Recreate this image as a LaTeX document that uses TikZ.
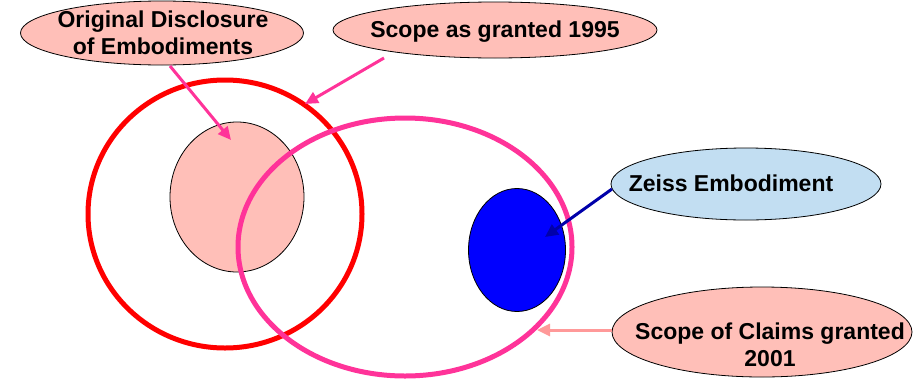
\documentclass[tikz,border=0pt]{standalone}
\usepackage{fontspec}
\setmainfont{Liberation Sans}
\usetikzlibrary{shapes.geometric,arrows.meta}
\definecolor{salmon}{HTML}{FFBFB8}
\definecolor{lblue}{HTML}{C2DEF2}
\definecolor{pinkline}{HTML}{FF3399}
\definecolor{darkblue}{HTML}{0000AA}
\definecolor{lightarrow}{HTML}{FF9999}
\tikzset{
  lab/.style={ellipse, draw=black, line width=0.8pt, inner sep=0pt},
  txt/.style={font=\fontsize{23}{27}\selectfont\bfseries, align=center, inner sep=0pt},
  big/.style={ellipse, line width=5pt, inner sep=0pt, fill=none},
  blob/.style={ellipse, draw=black, line width=0.8pt, inner sep=0pt},
  arr/.style={line width=3pt, -{Triangle[length=13pt,width=12pt]}},
}
\begin{document}
\begin{tikzpicture}[x=1pt,y=-1pt]
\useasboundingbox (0,0) rectangle (920,378);
% big ellipses and blobs
\node[big, draw=red, minimum width=274pt, minimum height=268pt] (red) at (225,214) {};
\node[blob, fill=salmon, minimum width=134pt, minimum height=150pt] (orig) at (237,197) {};
\node[blob, fill=blue, minimum width=97pt, minimum height=123pt] (zeiss) at (517,250) {};
\node[big, draw=pinkline, minimum width=334pt, minimum height=258pt] (pink) at (405,247) {};
% label ellipses
\node[lab, fill=salmon, minimum width=283pt, minimum height=64pt] (l1) at (162,33) {};
\node[txt] (t1) at (163,33) {Original Disclosure\\of Embodiments};
\node[lab, fill=salmon, minimum width=324pt, minimum height=56pt] (l2) at (495,30) {};
\node[txt, anchor=base] (t2) at (495,37) {Scope as granted 1995};
\node[lab, fill=lblue, minimum width=270pt, minimum height=72pt] (l3) at (746,184) {};
\node[txt, anchor=base] (t3) at (731,191) {Zeiss Embodiment};
\node[lab, fill=salmon, minimum width=300pt, minimum height=90pt] (l4) at (762,332) {};
\node[txt] (t4) at (770,345) {Scope of Claims granted\\2001};
% arrow endpoints
\coordinate (a1s) at (170,66);
\coordinate (a1e) at (231,140);
\coordinate (a2s) at (384,58);
\coordinate (a2e) at (305,104);
\coordinate (a3s) at (612,189);
\coordinate (a3e) at (545,237);
\coordinate (a4s) at (612,330);
\coordinate (a4e) at (537,330);
\draw[arr, pinkline] (a1s) -- (a1e);
\draw[arr, pinkline] (a2s) -- (a2e);
\draw[arr, darkblue] (a3s) -- (a3e);
\draw[arr, lightarrow] (a4s) -- (a4e);
\end{tikzpicture}
\end{document}
